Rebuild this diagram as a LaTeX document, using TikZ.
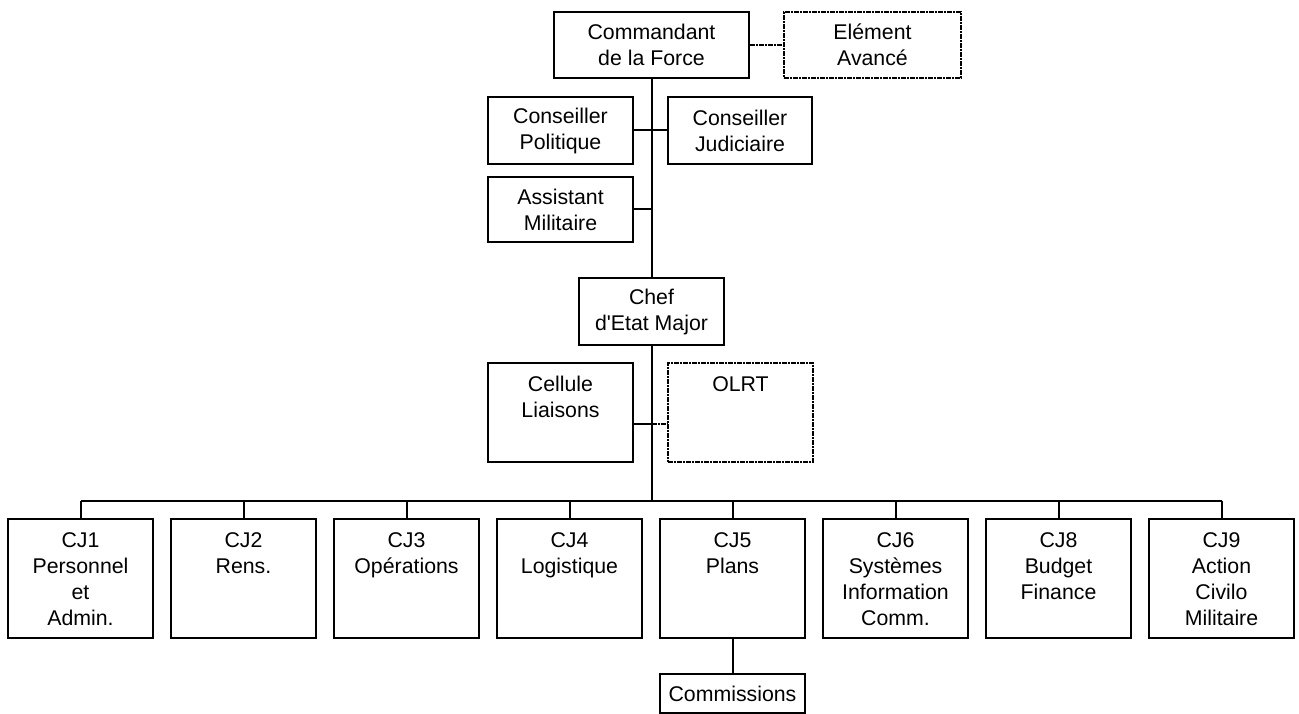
\documentclass[tikz,border=0pt]{standalone}
\usepackage{fontspec}
\setmainfont[Ligatures=TeXOff]{Liberation Sans}
\begin{document}
\begin{tikzpicture}[x=1pt,y=-1pt,
  box/.style={draw, line width=2pt, inner sep=0pt, font=\fontsize{21.3}{26}\selectfont, align=center},
  dbox/.style={box, dash pattern=on 5pt off 1pt on 2pt off 1pt},
  lbl/.style={inner sep=0pt, font=\fontsize{21.3}{26}\selectfont, align=center, anchor=north, yshift=-14pt},
  conn/.style={line width=2pt},
  dconn/.style={line width=2pt, dash pattern=on 5pt off 1pt on 2pt off 1pt}]
\useasboundingbox (0,0) rectangle (1299,714);
% top level
\node[box, minimum width=195pt, minimum height=66pt] (cmd) at (651.5,45) {Commandant\\de la Force};
\node[dbox, minimum width=177pt, minimum height=66pt] (elem) at (872.5,45) {Elément\\Avancé};
\node[box, minimum width=145pt, minimum height=67pt] (cpol) at (560.5,130.5) {Conseiller\\Politique};
\node[box, minimum width=144pt, minimum height=67pt] (cjud) at (740,130.5) {Conseiller\\Judiciaire};
\node[box, minimum width=145pt, minimum height=65pt] (asst) at (560.5,209.5) {Assistant\\Militaire};
\node[box, minimum width=145pt, minimum height=67pt] (chef) at (651.5,311.5) {Chef\\d'Etat Major};
\node[box, minimum width=145pt, minimum height=99pt] (cell) at (560.5,412.5) {};
\node[lbl] (celltxt) at (cell.north) {Cellule\\Liaisons};
\node[dbox, minimum width=145pt, minimum height=99pt] (olrt) at (740.5,412.5) {};
\node[lbl] (olrttxt) at (olrt.north) {OLRT};
% CJ row
\foreach \n/\x/\t in {1/80.5/{CJ1\\Personnel\\et\\Admin.},
                      2/243.5/{CJ2\\Rens.},
                      3/406.5/{CJ3\\Opérations},
                      4/569.5/{CJ4\\Logistique},
                      5/732.5/{CJ5\\Plans},
                      6/895.5/{CJ6\\Systèmes\\Information\\Comm.},
                      8/1058.5/{CJ8\\Budget\\Finance},
                      9/1221.5/{CJ9\\Action\\Civilo\\Militaire}}{
  \node[box, minimum width=145pt, minimum height=119pt] (cj\n) at (\x,578.5) {};
  \node[lbl] (cjt\n) at (cj\n.north) {\t};
}
\node[box, minimum width=145pt, minimum height=39pt] (comm) at (732.5,693.5) {Commissions};
% connectors
\coordinate (trunkbus) at (651.5,501);
\draw[conn] (cmd.south) -- (chef.north);
\draw[conn] (chef.south) -- (trunkbus);
\draw[dconn] (cmd.east) -- (elem.west);
\draw[conn] (cpol.east) -- (cjud.west);
\draw[conn] (asst.east) -- (asst.east -| cmd.south);
\draw[conn] (cell.east |- 0,424) -- (651.5,424);
\draw[dconn] (651.5,424) -- (olrt.west |- 0,424);
\draw[conn] (cj1.north |- trunkbus) -- (cj9.north |- trunkbus);
\foreach \n in {1,2,3,4,5,6,8,9}{
  \draw[conn] (cj\n.north |- trunkbus) -- (cj\n.north);
}
\draw[conn] (cj5.south) -- (comm.north);
\end{tikzpicture}
\end{document}
